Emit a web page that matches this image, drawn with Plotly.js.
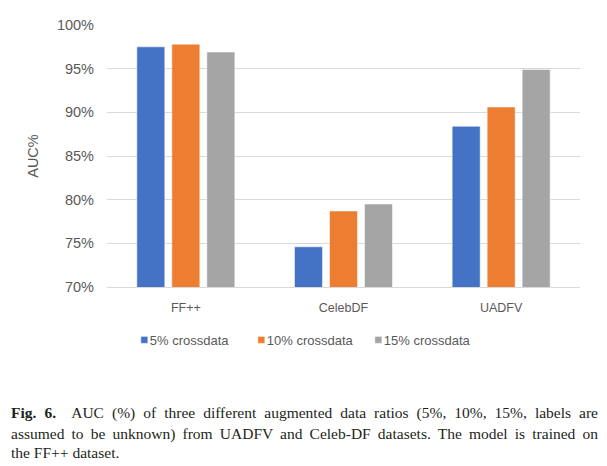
<!DOCTYPE html>
<html>
<head>
<meta charset="utf-8">
<script src="https://cdn.plot.ly/plotly-3.0.1.min.js"></script>
<style>
  body { margin: 0; background: #fff; }
  #chart { width: 607px; height: 466px; }
</style>
</head>
<body>
<div id="chart"></div>
<script>
var datasets = ['FF++', 'CelebDF', 'UADFV'];
var auc5 = [97.5, 74.6, 88.4];
var auc10 = [97.8, 78.7, 90.6];
var auc15 = [96.9, 79.5, 94.9];
var yTicks = [70, 75, 80, 85, 90, 95, 100];
var yTickText = ['70%', '75%', '80%', '85%', '90%', '95%', '100%'];
var captionLines = [
  '<b>Fig. 6.</b>  AUC (%) of three different augmented data ratios (5%, 10%, 15%, labels are',
  'assumed to be unknown) from UADFV and Celeb-DF datasets. The model is trained on',
  'the FF++ dataset.'
];

function series(name, y, color) {
  return {
    x: datasets,
    y: y,
    name: name,
    type: 'bar',
    marker: {color: color, line: {color: 'rgba(255,255,255,0.5)', width: 1}},
    hoverinfo: 'none'
  };
}

var data = [
  series('5% crossdata', auc5, '#4472C4'),
  series('10% crossdata', auc10, '#ED7D31'),
  series('15% crossdata', auc15, '#A5A5A5')
];

var capY = [-0.481, -0.561, -0.631];
var annotations = captionLines.map(function (t, i) {
  return {
    text: t,
    xref: 'paper', yref: 'paper',
    x: -0.207, y: capY[i],
    xanchor: 'left', yanchor: 'middle',
    align: 'left',
    showarrow: false,
    font: {family: '"Liberation Serif", serif', size: 15.5, color: '#231f20'}
  };
});

var layout = {
  width: 607,
  height: 466,
  margin: {l: 107, r: 27, t: 25, b: 179},
  paper_bgcolor: '#fff',
  plot_bgcolor: '#fff',
  barmode: 'group',
  bargap: 0.334,
  bargroupgap: 0.2,
  font: {family: '"Liberation Sans", Arial, sans-serif', color: '#595959'},
  showlegend: true,
  legend: {
    orientation: 'h',
    x: 0.006, y: -0.202,
    xanchor: 'left', yanchor: 'middle',
    font: {size: 13, color: '#595959'},
    itemwidth: 30,
    entrywidth: 72,
    traceorder: 'normal'
  },
  xaxis: {
    showgrid: false,
    showline: true,
    linecolor: '#d9d9d9',
    linewidth: 1,
    ticks: '',
    ticklabelstandoff: 9,
    tickfont: {size: 12.5, color: '#595959'},
    fixedrange: true
  },
  yaxis: {
    range: [70, 100],
    tickvals: yTicks,
    ticktext: yTickText,
    showgrid: true,
    gridcolor: '#d9d9d9',
    gridwidth: 1,
    zeroline: false,
    showline: false,
    ticks: '',
    ticklabelstandoff: 12,
    tickfont: {size: 14.5, color: '#595959'},
    title: {text: 'AUC%', font: {size: 14.5, color: '#595959'}, standoff: 14},
    fixedrange: true
  },
  annotations: annotations
};

Plotly.newPlot('chart', data, layout, {displayModeBar: false, staticPlot: true}).then(function (gd) {
  // let the last legend entry show in full
  gd.querySelectorAll('.legend [clip-path]').forEach(function (el) {
    el.removeAttribute('clip-path');
  });
  // small squares sitting just left of the legend text
  gd.querySelectorAll('.legend .legendpoints path').forEach(function (p) {
    p.setAttribute('d', 'M18,3.5H11V-3.5H18Z');
  });
  // justify the first two caption lines
  var texts = gd.querySelectorAll('.annotation-text');
  for (var i = 0; i < 2 && i < texts.length; i++) {
    var t = texts[i];
    var len = t.getComputedTextLength();
    var gaps = (t.textContent.match(/ /g) || []).length;
    if (gaps > 0) t.style.wordSpacing = ((587 - len) / gaps) + 'px';
  }
});
</script>
</body>
</html>
